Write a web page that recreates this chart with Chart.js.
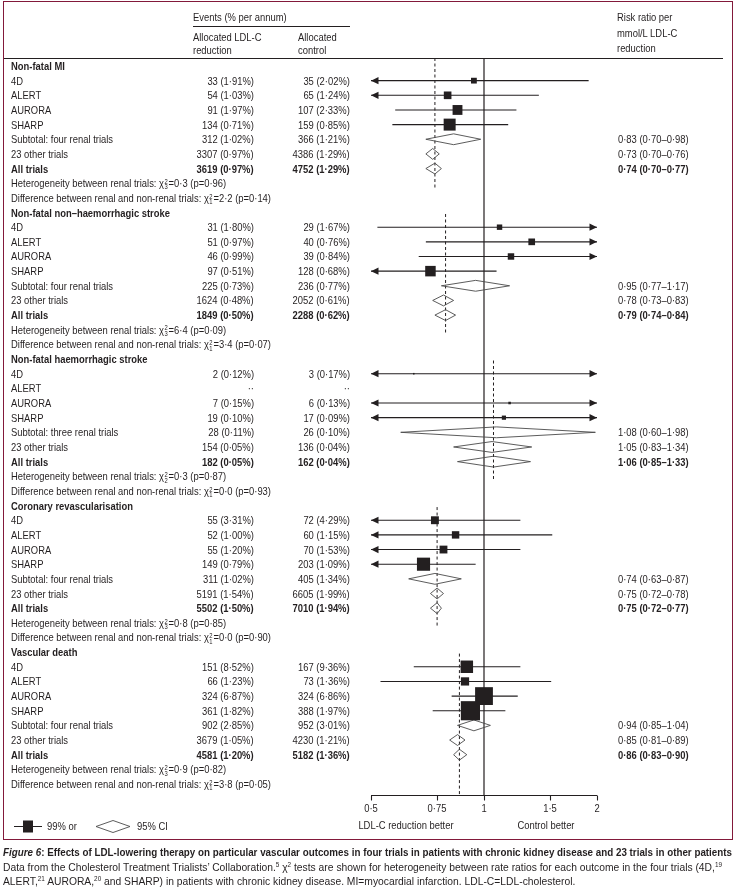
<!DOCTYPE html>
<html>
<head>
<meta charset="utf-8">
<script src="https://cdn.jsdelivr.net/npm/chart.js@4.4.0/dist/chart.umd.min.js"></script>
<style>
  html, body { margin: 0; padding: 0; background: #fff; }
  #page {
    position: relative; width: 737px; height: 892px; overflow: hidden;
    font-family: "Liberation Sans Narrow", "Liberation Sans", Arial, sans-serif;
    font-size: 10.5px; color: #231f20;
  }
  #frame { position: absolute; left: 3px; top: 1px; width: 728px; height: 837px; border: 1.5px solid #82193a; }
  #plot { position: absolute; left: 0; top: 0; }
  .t { position: absolute; white-space: nowrap; line-height: 12px; }
  .b { font-weight: bold; }
  .rule { position: absolute; height: 0; border-top: 1.2px solid #231f20; }
  .ss { display: inline-flex; flex-direction: column; font-size: 6.5px; line-height: 5.5px; vertical-align: middle; margin: 0 1px 0 0.5px; }
  .cap { position: absolute; left: 3px; white-space: nowrap; font-size: 10.5px; line-height: 13px; transform-origin: left center; }
  sup.r { font-size: 6.5px; vertical-align: 4px; line-height: 0; }
</style>
</head>
<body>
<div id="page">
  <div id="frame"></div>
  <canvas id="plot" width="737" height="892"></canvas>
</div>
<script>
/* ====== 数据 ====== */
const outcomes = [
  "Non-fatal MI",
  "Non-fatal non–haemorrhagic stroke",
  "Non-fatal haemorrhagic stroke",
  "Coronary revascularisation",
  "Vascular death",
];
const trials = ["4D", "ALERT", "AURORA", "SHARP"];
const renalCount = ["four", "four", "three", "four", "four"];

// rows: 4D, ALERT, AURORA, SHARP, subtotal, 23 other trials, all trials
const treatEvents = [
  [33, 54, 91, 134, 312, 3307, 3619],
  [31, 51, 46, 97, 225, 1624, 1849],
  [2, null, 7, 19, 28, 154, 182],
  [55, 52, 55, 149, 311, 5191, 5502],
  [151, 66, 324, 361, 902, 3679, 4581],
];
const treatPct = [
  [1.91, 1.03, 1.97, 0.71, 1.02, 0.97, 0.97],
  [1.80, 0.97, 0.99, 0.51, 0.73, 0.48, 0.50],
  [0.12, null, 0.15, 0.10, 0.11, 0.05, 0.05],
  [3.31, 1.00, 1.20, 0.79, 1.02, 1.54, 1.50],
  [8.52, 1.23, 6.87, 1.82, 2.85, 1.05, 1.20],
];
const ctrlEvents = [
  [35, 65, 107, 159, 366, 4386, 4752],
  [29, 40, 39, 128, 236, 2052, 2288],
  [3, null, 6, 17, 26, 136, 162],
  [72, 60, 70, 203, 405, 6605, 7010],
  [167, 73, 324, 388, 952, 4230, 5182],
];
const ctrlPct = [
  [2.02, 1.24, 2.33, 0.85, 1.21, 1.29, 1.29],
  [1.67, 0.76, 0.84, 0.68, 0.77, 0.61, 0.62],
  [0.17, null, 0.13, 0.09, 0.10, 0.04, 0.04],
  [4.29, 1.15, 1.53, 1.09, 1.34, 1.99, 1.94],
  [9.36, 1.36, 6.86, 1.97, 3.01, 1.21, 1.36],
];

// risk ratio and CI (99% for trials, 95% for diamonds)
const rr = [
  [0.94, 0.80, 0.85, 0.81, 0.83, 0.73, 0.74],
  [1.10, 1.34, 1.18, 0.72, 0.95, 0.78, 0.79],
  [0.65, null, 1.17, 1.13, 1.08, 1.05, 1.06],
  [0.74, 0.84, 0.78, 0.69, 0.74, 0.75, 0.75],
  [0.90, 0.89, 1.00, 0.92, 0.94, 0.85, 0.86],
];
const rrLow = [
  [0.46, 0.44, 0.58, 0.57, 0.70, 0.70, 0.70],
  [0.52, 0.70, 0.67, 0.46, 0.77, 0.73, 0.74],
  [0.12, null, 0.30, 0.40, 0.60, 0.83, 0.85],
  [0.45, 0.46, 0.47, 0.48, 0.63, 0.72, 0.72],
  [0.65, 0.53, 0.82, 0.73, 0.85, 0.81, 0.83],
];
const rrHigh = [
  [1.90, 1.40, 1.22, 1.16, 0.98, 0.76, 0.77],
  [2.40, 2.60, 2.10, 1.08, 1.17, 0.83, 0.84],
  [3.50, null, 4.50, 3.20, 1.98, 1.34, 1.33],
  [1.25, 1.52, 1.25, 0.95, 0.87, 0.78, 0.77],
  [1.25, 1.51, 1.23, 1.14, 1.04, 0.89, 0.90],
];

const hetChi = ["0·3", "6·4", "0·3", "0·8", "0·9"];
const hetP = ["0·96", "0·09", "0·87", "0·85", "0·82"];
const diffChi = ["2·2", "3·4", "0·0", "0·0", "3·8"];
const diffP = ["0·14", "0·07", "0·93", "0·90", "0·05"];

const xTicks = [0.5, 0.75, 1, 1.5, 2];

/* ====== 版面 ====== */
const TOP = 58, AXIS_Y = 795, FIRST_ROW_Y = 66, PITCH = 14.653;
const Y_MIN = (TOP - FIRST_ROW_Y) / PITCH;
const Y_MAX = (AXIS_Y - FIRST_ROW_Y) / PITCH;
const INK = "#231f20";
const DIAMOND_H = 0.37; // half height in rows
const rowOf = (s, r) => s * 10 + r;
const dot = (v, d) => v.toFixed(d).replace(".", "·");
const pctCell = (n, p) => (n == null ? "··" : `${n} (${dot(p, 2)}%)`);

/* ====== datasets ====== */
const squares = { data: [], pointRadius: [] };
const datasets = [];
const arrows = [];

outcomes.forEach((name, s) => {
  for (let r = 0; r < 7; r++) {
    if (rr[s][r] == null) continue;
    const y = rowOf(s, r + 1);
    if (r < 4) {
      // trial: square + CI line
      const side = 0.7 * Math.sqrt(treatEvents[s][r] + ctrlEvents[s][r]);
      squares.data.push({ x: rr[s][r], y });
      squares.pointRadius.push(side / Math.SQRT2);
      datasets.push({
        data: [{ x: rrLow[s][r], y }, { x: rrHigh[s][r], y }],
        showLine: true, pointRadius: 0, borderColor: INK, borderWidth: 1.1, order: 1,
      });
      if (rrLow[s][r] < xTicks[0]) arrows.push({ y, dir: -1 });
      if (rrHigh[s][r] > xTicks[xTicks.length - 1]) arrows.push({ y, dir: 1 });
    } else {
      // diamond
      datasets.push({
        data: [
          { x: rrLow[s][r], y },
          { x: rr[s][r], y: y - DIAMOND_H },
          { x: rrHigh[s][r], y },
          { x: rr[s][r], y: y + DIAMOND_H },
          { x: rrLow[s][r], y },
        ],
        showLine: true, pointRadius: 0, borderColor: "#4a4a4a", borderWidth: 0.9, order: 2,
      });
    }
  }
  // dashed line at overall estimate
  const y0 = s === 0 ? Y_MIN : rowOf(s, 0) + 0.1;
  const y1 = s === outcomes.length - 1 ? Y_MAX : rowOf(s, 8) + 0.3;
  datasets.push({
    data: [{ x: rr[s][6], y: y0 }, { x: rr[s][6], y: y1 }],
    showLine: true, pointRadius: 0, borderColor: INK, borderWidth: 1, borderDash: [3, 2.5], order: 3,
  });
});
// line of no effect
datasets.push({
  data: [{ x: 1, y: Y_MIN }, { x: 1, y: Y_MAX }],
  showLine: true, pointRadius: 0, borderColor: INK, borderWidth: 1.2, order: 3,
});
datasets.unshift({
  data: squares.data, pointRadius: squares.pointRadius, pointStyle: "rect",
  backgroundColor: INK, borderWidth: 0, pointBorderWidth: 0, order: 0,
});

/* ====== 箭头 + 坐标轴 ====== */
const extras = {
  id: "extras",
  afterDatasetsDraw(chart) {
    const { ctx, scales: { x, y }, chartArea } = chart;
    ctx.save();
    ctx.fillStyle = INK;
    arrows.forEach((a) => {
      const tip = x.getPixelForValue(a.dir < 0 ? xTicks[0] : xTicks[xTicks.length - 1]);
      const py = y.getPixelForValue(a.y);
      ctx.beginPath();
      ctx.moveTo(tip, py);
      ctx.lineTo(tip - a.dir * 7.5, py - 3.6);
      ctx.lineTo(tip - a.dir * 7.5, py + 3.6);
      ctx.closePath();
      ctx.fill();
    });
    // axis
    ctx.strokeStyle = INK;
    ctx.lineWidth = 1.1;
    ctx.beginPath();
    const by = Math.round(chartArea.bottom) + 0.5;
    ctx.moveTo(x.getPixelForValue(xTicks[0]), by);
    ctx.lineTo(x.getPixelForValue(xTicks[xTicks.length - 1]), by);
    xTicks.forEach((t) => {
      const px = Math.round(x.getPixelForValue(t)) + 0.5;
      ctx.moveTo(px, by);
      ctx.lineTo(px, by + 5);
    });
    ctx.stroke();
    // legend symbols
    const ly = 826.5;
    ctx.beginPath();
    ctx.moveTo(14, ly); ctx.lineTo(42, ly);
    ctx.moveTo(100, ly); ctx.lineTo(126, ly);
    ctx.stroke();
    ctx.fillRect(23, ly - 6, 10, 12);
    ctx.fillStyle = "#fff";
    ctx.strokeStyle = "#4a4a4a";
    ctx.lineWidth = 0.9;
    ctx.beginPath();
    ctx.moveTo(96, ly); ctx.lineTo(113, ly - 6); ctx.lineTo(130, ly); ctx.lineTo(113, ly + 6); ctx.closePath();
    ctx.fill();
    ctx.stroke();
    ctx.restore();
  },
};

const chart = new Chart(document.getElementById("plot"), {
  type: "scatter",
  data: { datasets },
  options: {
    responsive: false,
    animation: false,
    events: [],
    layout: { padding: { left: 371, right: 140, top: TOP, bottom: 892 - AXIS_Y } },
    plugins: { legend: { display: false }, tooltip: { enabled: false } },
    scales: {
      x: { type: "logarithmic", min: xTicks[0], max: xTicks[xTicks.length - 1], display: false },
      y: { type: "linear", reverse: true, min: Y_MIN, max: Y_MAX, display: false },
    },
  },
  plugins: [extras],
});

/* ====== 文字 ====== */
const page = document.getElementById("page");
const texts = [];
function put(html, x, y, align, cls) {
  const d = document.createElement("div");
  d.className = "t " + (cls || "");
  d.innerHTML = html;
  d.style.top = y - 6 + "px";
  if (align === "right") { d.style.right = 737 - x + "px"; d.style.transformOrigin = "right center"; }
  else if (align === "center") { d.style.left = x + "px"; d.style.transformOrigin = "center"; }
  else { d.style.left = x + "px"; d.style.transformOrigin = "left center"; }
  d.dataset.align = align || "left";
  page.appendChild(d);
  texts.push(d);
  return d;
}
function rule(x0, x1, y) {
  const d = document.createElement("div");
  d.className = "rule";
  d.style.left = x0 + "px"; d.style.width = x1 - x0 + "px"; d.style.top = y + "px";
  page.appendChild(d);
}
const chi = (sub) => `χ<span class="ss"><span>2</span><span>${sub}</span></span>`;

const ys = chart.scales.y, xs = chart.scales.x;
const LABEL_X = 11, COL1 = 254, COL2 = 350, RR_X = 618;

// header
put("Events (% per annum)", 193, 17);
rule(193, 350, 26);
put("Allocated LDL-C", 193, 37);
put("reduction", 193, 50);
put("Allocated", 298, 37);
put("control", 298, 50);
put("Risk ratio per", 617, 17);
put("mmol/L LDL-C", 617, 33);
put("reduction", 617, 48);
rule(4, 723, TOP);

let probe = null;
outcomes.forEach((name, s) => {
  const yp = (r) => ys.getPixelForValue(rowOf(s, r));
  put(name, LABEL_X, yp(0), "left", "b");
  const labels = [...trials, `Subtotal: ${renalCount[s]} renal trials`, "23 other trials", "All trials"];
  labels.forEach((lab, r) => {
    const cls = r === 6 ? "b" : "";
    put(lab, LABEL_X, yp(r + 1), "left", cls);
    put(pctCell(treatEvents[s][r], treatPct[s][r]), COL1, yp(r + 1), "right", cls);
    put(pctCell(ctrlEvents[s][r], ctrlPct[s][r]), COL2, yp(r + 1), "right", cls);
    if (r >= 4) {
      put(`${dot(rr[s][r], 2)} (${dot(rrLow[s][r], 2)}–${dot(rrHigh[s][r], 2)})`, RR_X, yp(r + 1), "left", cls);
    }
  });
  const df = renalCount[s] === "three" ? 2 : 3;
  put(`Heterogeneity between renal trials: ${chi(df)}=${hetChi[s]} (p=${hetP[s]})`, LABEL_X, yp(8));
  const d = put(`Difference between renal and non-renal trials: ${chi(1)}=${diffChi[s]} (p=${diffP[s]})`, LABEL_X, yp(9));
  if (s === 0) probe = d;
});

// axis labels
xTicks.forEach((t) => put(dot(t, t === 0.75 ? 2 : t % 1 ? 1 : 0), xs.getPixelForValue(t), 808, "center"));
put("LDL-C reduction better", xs.getPixelForValue(0.62), 825, "center");
put("Control better", xs.getPixelForValue(1.46), 825, "center");
put("99% or", 47, 826);
put("95% CI", 137, 826);

// 窄体字：按参考图的行宽压缩
const k = 260 / probe.getBoundingClientRect().width;
texts.forEach((d) => {
  d.style.transform = (d.dataset.align === "center" ? "translateX(-50%) " : "") + `scaleX(${k})`;
});

// caption: 第一行、第二行按宽度压缩，第三行沿用第二行比例
const capLines = [
  [846, 729, "b", `<i>Figure 6</i>: Effects of LDL-lowering therapy on particular vascular outcomes in four trials in patients with chronic kidney disease and 23 trials in other patients`],
  [861, 719, "", `Data from the Cholesterol Treatment Trialists’ Collaboration.<sup class="r">5</sup> χ<sup class="r">2</sup> tests are shown for heterogeneity between rate ratios for each outcome in the four trials (4D,<sup class="r">19</sup>`],
  [875, null, "", `ALERT,<sup class="r">21</sup> AURORA,<sup class="r">20</sup> and SHARP) in patients with chronic kidney disease. MI=myocardial infarction. LDL-C=LDL-cholesterol.`],
];
let lastScale = k;
capLines.forEach(([top, w, cls, html]) => {
  const d = document.createElement("div");
  d.className = "cap " + cls;
  d.style.top = top + "px";
  d.innerHTML = html;
  page.appendChild(d);
  if (w) lastScale = w / d.getBoundingClientRect().width;
  d.style.transform = `scaleX(${lastScale})`;
});
</script>
</body>
</html>
